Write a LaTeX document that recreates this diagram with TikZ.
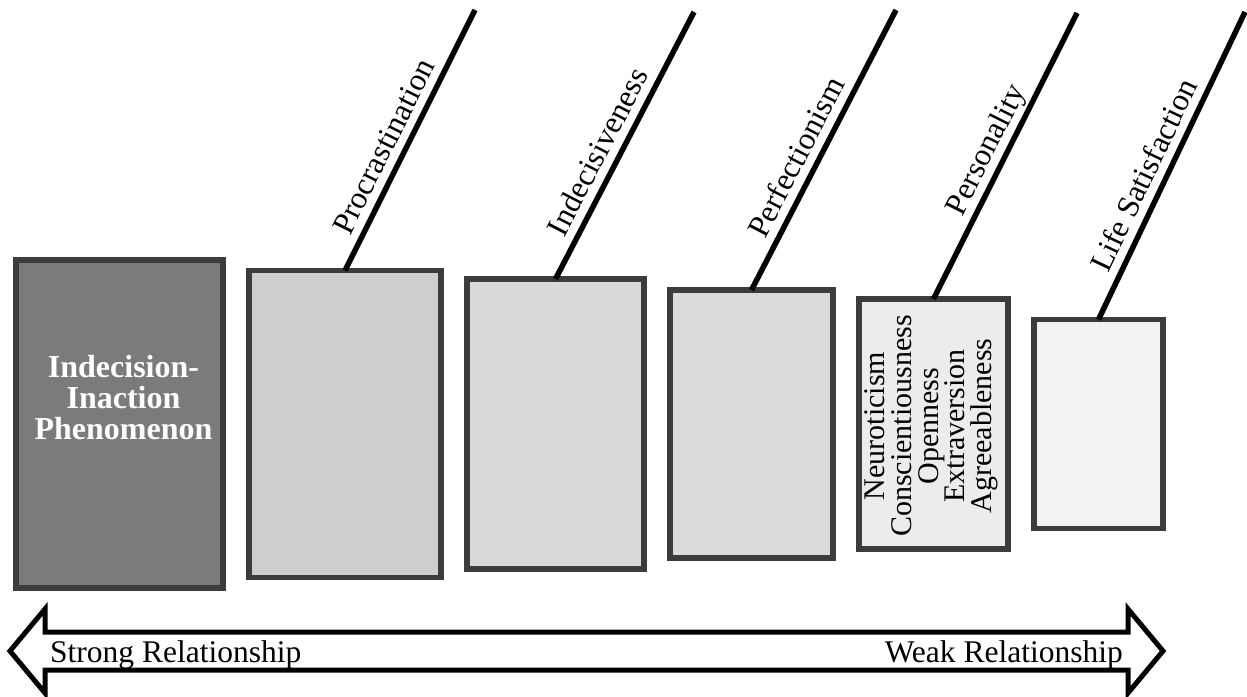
\documentclass[tikz,border=0pt]{standalone}
\usepackage{fontspec}
\setmainfont{Liberation Serif}
\usetikzlibrary{positioning}
\definecolor{boxedge}{HTML}{3C3C3C}
\tikzset{
  factorbox/.style={draw=boxedge, line width=5.5pt, inner sep=0pt, outer sep=0pt},
  stem/.style={line width=5.5pt, black},
  stemlabel/.style={sloped, above, inner sep=8pt, text depth=0pt, font=\fontsize{31.5}{36}\selectfont},
  scalelabel/.style={inner sep=0pt, font=\fontsize{31.5}{36}\selectfont},
  scalearrow/.style={line width=5pt, line join=miter, fill=white}
}

\begin{document}
\begin{tikzpicture}[x=1pt, y=-1pt]
  \useasboundingbox (0,0) rectangle (1247,696);
  % boxes, centred on one row
  \node[factorbox, fill={rgb,255:red,123;green,123;blue,123}, minimum width=207pt, minimum height=328pt] (core) at (119.5,424) {};
  \node[factorbox, fill={rgb,255:red,208;green,205;blue,208}, minimum width=192pt, minimum height=307pt, right=26pt of core] (procr) {};
  \node[factorbox, fill={rgb,255:red,217;green,217;blue,217}, minimum width=177pt, minimum height=290pt, right=26pt of procr] (indec) {};
  \node[factorbox, fill={rgb,255:red,219;green,219;blue,219}, minimum width=163pt, minimum height=268pt, right=26pt of indec] (perf) {};
  \node[factorbox, fill={rgb,255:red,236;green,236;blue,236}, minimum width=149pt, minimum height=250pt, right=26pt of perf] (pers) {};
  \node[factorbox, fill={rgb,255:red,242;green,242;blue,242}, minimum width=129pt, minimum height=209pt, right=26pt of pers] (life) {};

  \node[align=center, text=white, font=\fontsize{32}{31}\selectfont\bfseries] (coretxt) at ([xshift=4pt, yshift=26pt]core.center) {Indecision-\\Inaction\\Phenomenon};
  \node[align=center, rotate=90, font=\fontsize{30}{26.7}\selectfont] (perstxt) at ([xshift=-2pt, yshift=-2pt]pers.center) {Neuroticism\\Conscientiousness\\Openness\\Extraversion\\Agreeableness};

  % slanted stems with their labels
  \coordinate (procrtop) at (475,10);
  \coordinate (indectop) at (694,12);
  \coordinate (perftop) at (896,10);
  \coordinate (perstop) at (1077,13);
  \coordinate (lifetop) at (1245,12);
  \draw[stem] (procr.north) -- node[stemlabel, pos=.44] {Procrastination} (procrtop);
  \draw[stem] (indec.north) -- node[stemlabel, pos=.44] {Indecisiveness} (indectop);
  \draw[stem] (perf.north) -- node[stemlabel, pos=.44] {Perfectionism} (perftop);
  \draw[stem] (pers.north) -- node[stemlabel, pos=.49] {Personality} (perstop);
  \draw[stem] (life.north) -- node[stemlabel, pos=.44] {Life Satisfaction} (lifetop);

  % two-headed scale arrow
  \draw[scalearrow] (10,651) -- (45,609) -- (45,632) -- (1128,632) -- (1128,609) -- (1163,651)
    -- (1128,693) -- (1128,670) -- (45,670) -- (45,693) -- cycle;
  \node[scalelabel, anchor=base west] (strong) at (50,662) {Strong Relationship};
  \node[scalelabel, anchor=base east] (weak) at (1123,662) {Weak Relationship};
\end{tikzpicture}
\end{document}
